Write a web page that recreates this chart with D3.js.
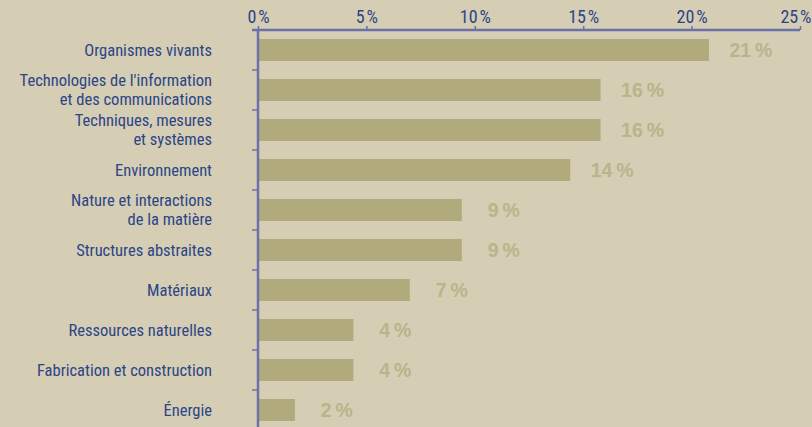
<!DOCTYPE html>
<html><head><meta charset="utf-8">
<script src="https://cdn.jsdelivr.net/npm/d3@7/dist/d3.min.js"></script>
<style>
html,body{margin:0;padding:0;background:#d6cdb5;}
svg{display:block;}
</style></head>
<body>
<svg id="c" width="812" height="427"></svg>
<script>
const categories = [
  ["Organismes vivants"],
  ["Technologies de l'information", "et des communications"],
  ["Techniques, mesures", "et systèmes"],
  ["Environnement"],
  ["Nature et interactions", "de la matière"],
  ["Structures abstraites"],
  ["Matériaux"],
  ["Ressources naturelles"],
  ["Fabrication et construction"],
  ["Énergie"]
];
const values = [20.8, 15.8, 15.8, 14.4, 9.4, 9.4, 7.0, 4.4, 4.4, 1.7];
const valueLabels = ["21", "16", "16", "14", "9", "9", "7", "4", "4", "2"];
const tickValues = [0, 5, 10, 15, 20, 25];

const svg = d3.select("#c");
const W = 812, H = 427;
const axisColor = "#6a72a8", textColor = "#2b4586", barColor = "#b1aa7c", valColor = "#bbb389";
const narrow = "'Liberation Sans Narrow','Arial Narrow','Roboto Condensed',sans-serif";

svg.append("rect").attr("width", W).attr("height", H).attr("fill", "#d6cdb5");

const x = d3.scaleLinear().domain([0, 25]).range([258, 800]);
const y = d3.scaleBand().domain(d3.range(categories.length)).range([30, 430]).paddingInner(0.45).paddingOuter(0.225);

// bars
svg.append("g").selectAll("rect").data(values).join("rect")
  .attr("x", x(0) + 1)
  .attr("y", (d, i) => y(i))
  .attr("width", d => x(d) - x(0) - 1)
  .attr("height", y.bandwidth())
  .attr("fill", barColor);

// value labels
svg.append("g").selectAll("text").data(values).join("text")
  .attr("x", d => x(d) + 42)
  .attr("y", (d, i) => y(i) + y.bandwidth() / 2)
  .attr("dy", "0.36em")
  .attr("text-anchor", "middle")
  .attr("font-family", "'Liberation Sans',Arial,sans-serif")
  .attr("font-weight", "bold")
  .attr("font-size", 19.5)
  .attr("fill", valColor)
  .text((d, i) => valueLabels[i] + "\u2009%");

// top axis
const topAxis = d3.axisTop(x).tickValues(tickValues).tickSize(4).tickPadding(3)
  .tickFormat(d => d + "\u200a%");
const gx = svg.append("g").attr("transform", "translate(0,30)").call(topAxis);
gx.select(".domain").attr("d", "M252,0H800").attr("stroke", axisColor).attr("stroke-width", 2.5);
gx.selectAll(".tick line").attr("stroke", axisColor).attr("stroke-width", 1.5);
gx.selectAll(".tick text").attr("fill", textColor).attr("font-family", narrow).attr("font-size", 18);
gx.selectAll(".tick").filter(d => d === 25).select("text")
  .attr("text-anchor", "end").attr("x", 11);

// left axis
const bounds = d3.range(1, categories.length).map(i => y(i) - y.step() * y.paddingInner() / 2);
const gy = svg.append("g");
gy.append("line").attr("x1", 258).attr("x2", 258).attr("y1", 29).attr("y2", H)
  .attr("stroke", axisColor).attr("stroke-width", 2.5);
gy.selectAll("line.t").data(bounds).join("line").attr("class", "t")
  .attr("x1", 252).attr("x2", 258).attr("y1", d => d).attr("y2", d => d)
  .attr("stroke", axisColor).attr("stroke-width", 1.5);

// category labels
const lab = svg.append("g").selectAll("text").data(categories).join("text")
  .attr("text-anchor", "end")
  .attr("font-family", narrow)
  .attr("font-size", 16.5)
  .attr("fill", textColor)
  .attr("y", (d, i) => y(i) + y.bandwidth() / 2 - (d.length - 1) * 9.5);
lab.selectAll("tspan").data(d => d).join("tspan")
  .attr("x", 212)
  .attr("dy", (d, j) => j === 0 ? "0.36em" : 19)
  .text(d => d);
</script>
</body></html>
